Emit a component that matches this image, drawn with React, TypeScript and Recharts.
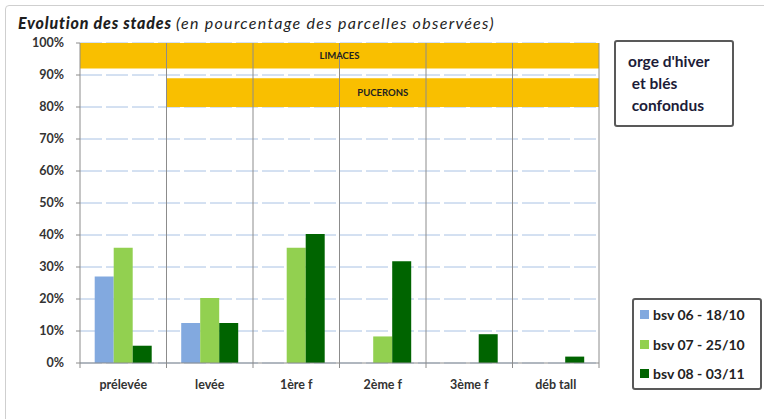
import {
  BarChart,
  Bar,
  XAxis,
  YAxis,
  CartesianGrid,
  ReferenceArea,
  ReferenceLine,
} from 'recharts';

const stages = ['prélevée', 'levée', '1ère f', '2ème f', '3ème f', 'déb tall'];
const bsv06 = [27, 12.5, 0, 0, 0, 0];
const bsv07 = [36, 20.3, 36, 8.3, 0, 0];
const bsv08 = [5.4, 12.5, 40.3, 31.8, 9, 2];
const yTicks = [0, 10, 20, 30, 40, 50, 60, 70, 80, 90, 100];

const series = [
  { key: 'bsv06', name: 'bsv 06 - 18/10', color: '#82a9df' },
  { key: 'bsv07', name: 'bsv 07 - 25/10', color: '#92d050' },
  { key: 'bsv08', name: 'bsv 08 - 03/11', color: '#006400' },
];

const data = stages.map((stage, i) => ({
  stage,
  bsv06: bsv06[i],
  bsv07: bsv07[i],
  bsv08: bsv08[i],
}));

const FONT = 'Lato, "Open Sans", sans-serif';
const GOLD = '#f9bf00';
const SEP = '#8c8c8c';

// x tick: label plus a short mark on the category boundary (excel style)
function StageTick(props: any) {
  const { x, y, payload, index } = props;
  const half = payload.offset || 0;
  return (
    <g>
      <line x1={x - half} x2={x - half} y1={y - 8} y2={y - 3} stroke={SEP} />
      {index === stages.length - 1 && (
        <line x1={x + half} x2={x + half} y1={y - 8} y2={y - 3} stroke={SEP} />
      )}
      <text
        x={x}
        y={y + 18}
        textAnchor='middle'
        fontSize={12.5}
        fontWeight={700}
        fill='#333'
        fontFamily={FONT}
      >
        {payload.value}
      </text>
    </g>
  );
}

export default function App() {
  return (
    <div
      style={{
        position: 'absolute',
        left: 0,
        top: 0,
        width: 764,
        height: 419,
        background: '#fff',
        overflow: 'hidden',
        fontFamily: FONT,
      }}
    >
      <div
        style={{
          position: 'absolute',
          left: 5,
          top: 5,
          width: 800,
          height: 500,
          border: '1px solid #cfcfcf',
          borderRadius: 4,
        }}
      />
      <div
        style={{
          position: 'absolute',
          left: 18,
          top: 13,
          fontSize: 16,
          lineHeight: '20px',
          fontStyle: 'italic',
          color: '#1e1e1e',
          whiteSpace: 'nowrap',
        }}
      >
        <span style={{ fontWeight: 900, letterSpacing: 0.8 }}>Evolution des stades </span>
        <span style={{ letterSpacing: 1.3 }}>(en pourcentage des parcelles observées)</span>
      </div>

      <div style={{ position: 'absolute', left: 0, top: 0 }}>
        <BarChart
          width={764}
          height={419}
          data={data}
          margin={{ top: 43, right: 165, bottom: 26, left: 18 }}
          barCategoryGap='17%'
          barGap={0}
        >
          <CartesianGrid
            vertical={false}
            stroke='#a9c2e4'
            strokeDasharray='22 4'
          />
          <XAxis
            dataKey='stage'
            tick={<StageTick />}
            tickLine={false}
            axisLine={{ stroke: SEP }}
            height={30}
            interval={0}
          />
          <YAxis
            domain={[0, 100]}
            ticks={yTicks}
            tickFormatter={(v: number) => `${v}%`}
            width={62}
            tickSize={4}
            tickMargin={12}
            tickLine={{ stroke: SEP }}
            axisLine={{ stroke: SEP }}
            tick={{ fontSize: 12.5, fontWeight: 700, fill: '#333', fontFamily: FONT }}
          />
          {stages.slice(1).map((s) => (
            <ReferenceLine key={s} x={s} position='start' stroke={SEP} />
          ))}
          <ReferenceLine x={stages[stages.length - 1]} position='end' stroke={SEP} />
          <ReferenceArea
            x1={stages[0]}
            x2={stages[stages.length - 1]}
            y1={92}
            y2={100}
            fill={GOLD}
            fillOpacity={1}
            label={{
              value: 'LIMACES',
              position: 'center',
              fontSize: 9.5,
              fontWeight: 700,
              fill: '#222',
              fontFamily: FONT,
            }}
          />
          <ReferenceArea
            x1={stages[1]}
            x2={stages[stages.length - 1]}
            y1={80}
            y2={89}
            fill={GOLD}
            fillOpacity={1}
            label={{
              value: 'PUCERONS',
              position: 'center',
              fontSize: 9.5,
              fontWeight: 700,
              fill: '#222',
              fontFamily: FONT,
            }}
          />
          {series.map((s) => (
            <Bar
              key={s.key}
              dataKey={s.key}
              name={s.name}
              fill={s.color}
              isAnimationActive={false}
            />
          ))}
        </BarChart>
      </div>

      <div
        style={{
          position: 'absolute',
          left: 614,
          top: 40,
          width: 120,
          height: 87,
          border: '2px solid #595959',
          borderRadius: 3,
          fontSize: 15.5,
          fontWeight: 700,
          color: '#1c1c38',
          lineHeight: '22px',
          paddingTop: 8,
          paddingLeft: 12,
          boxSizing: 'border-box',
          whiteSpace: 'pre',
        }}
      >
        {"orge d'hiver\n et blés\n confondus"}
      </div>

      <div
        style={{
          position: 'absolute',
          left: 632,
          top: 298,
          width: 130,
          height: 92,
          border: '2px solid #595959',
          borderRadius: 3,
          boxSizing: 'border-box',
        }}
      >
        {series.map((s) => (
          <div
            key={s.key}
            style={{
              display: 'flex',
              alignItems: 'center',
              height: 29.5,
              paddingLeft: 6,
              fontSize: 14,
              fontWeight: 700,
              color: '#222',
              whiteSpace: 'nowrap',
            }}
          >
            <span
              style={{
                width: 9,
                height: 9,
                background: s.color,
                marginRight: 4,
                display: 'inline-block',
                flexShrink: 0,
              }}
            />
            {s.name}
          </div>
        ))}
      </div>
    </div>
  );
}
